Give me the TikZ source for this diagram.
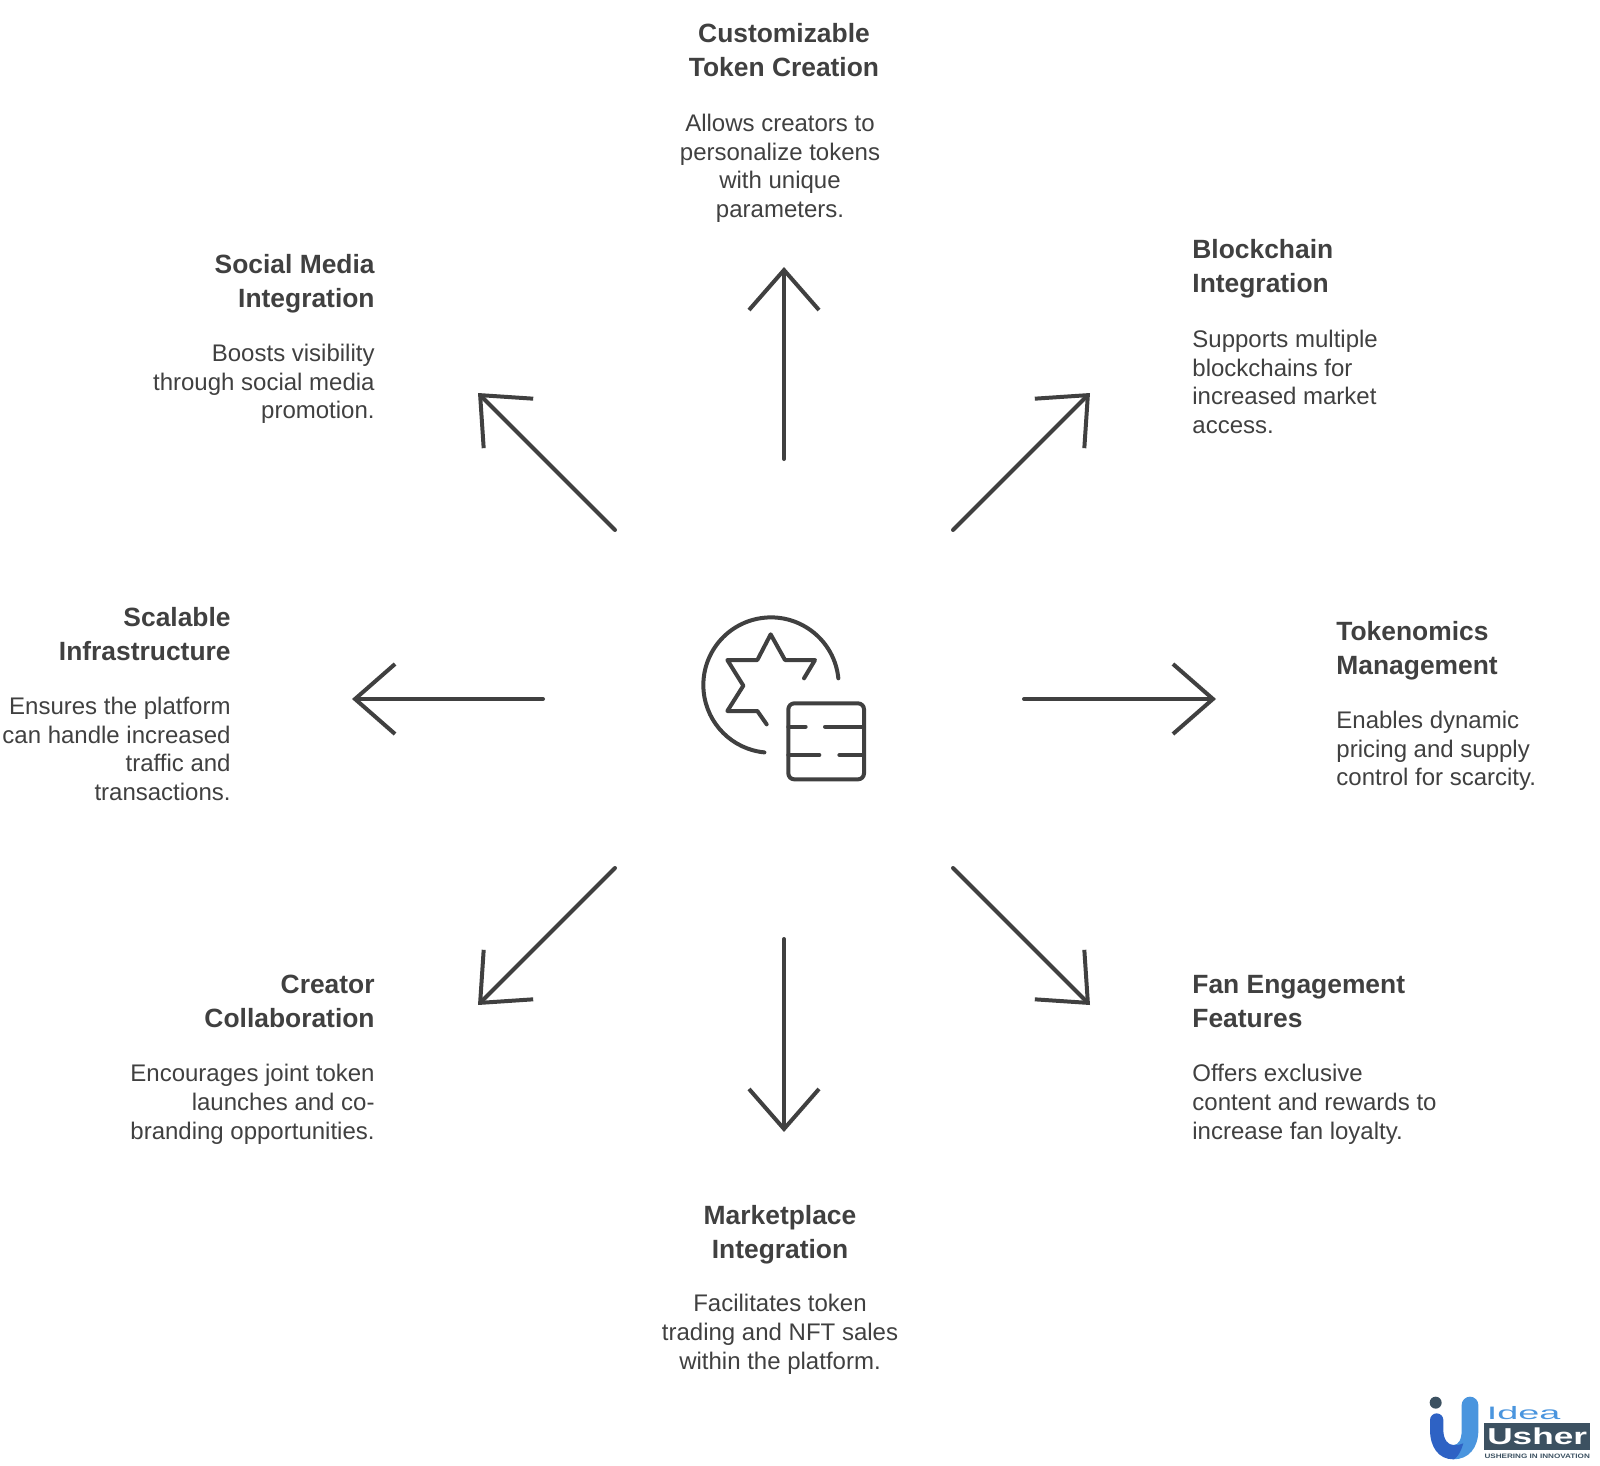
\documentclass[tikz,border=0pt]{standalone}
\usepackage{fontspec}
\setmainfont{Liberation Sans}
\usetikzlibrary{arrows.meta}
\definecolor{ink}{HTML}{404040}
\definecolor{slate}{HTML}{3C5161}
\definecolor{blueA}{HTML}{2E62C4}
\definecolor{blueB}{HTML}{4A95DE}

\begin{document}
\begin{tikzpicture}[
		x=0.5pt,y=-0.5pt,
		pfeil/.style={draw=ink,line width=2pt,line cap=round,line join=round,-{Straight Barb[length=20pt,width=35pt,line width=2pt]}},
		icon/.style={draw=ink,line width=2pt,line cap=round,line join=round},
		titel/.style={font=\bfseries\fontsize{13.2}{16.8}\selectfont,text=ink,inner sep=0pt},
		rumpf/.style={font=\fontsize{12}{14.3}\selectfont,text=ink,inner sep=0pt}]
		
		\useasboundingbox (0,0) rectangle (1600,1466);
		
		%titel
		\foreach \name/\x/\y/\richtung/\anker/\kopf in {
			token/784/23/center/north/{Customizable\\Token Creation},
			block/1192/239/left/north west/{Blockchain\\Integration},
			tokenomics/1336/621/left/north west/{Tokenomics\\Management},
			fan/1192/975/left/north west/{Fan Engagement\\Features},
			market/780/1205/center/north/{Marketplace\\Integration},
			creator/375/975/right/north east/{Creator\\Collaboration},
			scalable/231/607/right/north east/{Scalable\\Infrastructure},
			social/375/254/right/north east/{Social Media\\Integration}}
		\node[titel,align=\richtung,anchor=\anker] (\name) at (\x,\y) {\kopf};
		
		%text
		\foreach \name/\x/\y/\richtung/\anker/\inhalt in {
			tokentext/780/114/center/north/{Allows creators to\\personalize tokens\\with unique\\parameters.},
			blocktext/1192/330/left/north west/{Supports multiple\\blockchains for\\increased market\\access.},
			tokenomicstext/1336/711/left/north west/{Enables dynamic\\pricing and supply\\control for scarcity.},
			fantext/1192/1064/left/north west/{Offers exclusive\\content and rewards to\\increase fan loyalty.},
			markettext/780/1294/center/north/{Facilitates token\\trading and NFT sales\\within the platform.},
			creatortext/375/1064/right/north east/{Encourages joint token\\launches and co-\\branding opportunities.},
			scalabletext/231/697/right/north east/{Ensures the platform\\can handle increased\\traffic and\\transactions.},
			socialtext/375/344/right/north east/{Boosts visibility\\through social media\\promotion.}}
		\node[rumpf,align=\richtung,anchor=\anker] (\name) at (\x,\y) {\inhalt};
		
		%pfeile
		\foreach \name/\anfangx/\anfangy/\endex/\endey in {
			n/784/459/784/267, ne/953/530/1090/393, o/1024/699/1216/699, se/953/868/1090/1005,
			s/784/939/784/1132, sw/615/868/478/1005, w/543/699/352/699, nw/615/530/478/393}{
			\coordinate (start\name) at (\anfangx,\anfangy);
			\coordinate (ende\name) at (\endex,\endey);
			\draw[pfeil] (start\name) -- (ende\name);
		}
		
		%mitte
		\begin{scope}[shift={(680,600)},x=0.16667pt,y=-0.16667pt]
			\draw[icon] (475,235) arc[start angle=-5.7,end angle=-264.4,radius=203];
			\draw[icon] (372,235) -- (405,180) -- (315,180) -- (272,103) -- (232,180) -- (142,180) -- (190,257) -- (142,333) -- (232,333) -- (260,373);
			\draw[icon,rounded corners=3pt] (325,310) rectangle (552,538);
			\foreach \anfang/\ende/\hoehe in {325/377/380, 435/552/380, 325/418/465, 478/552/465}
			\draw[icon] (\anfang,\hoehe) -- (\ende,\hoehe);
		\end{scope}
		
		%logo
		\begin{scope}[shift={(1410,1380)},x=0.16667pt,y=-0.16667pt]
			\fill[slate] (77,68) circle[radius=3pt];
			\fill[blueB] (155,75) arc[start angle=180,end angle=0,x radius=25,y radius=-25] -- (205,150) .. controls (205,205) and (175,238) .. (130,238) -- (130,195) .. controls (145,195) and (155,180) .. (155,150) -- cycle;
			\fill[blueA] (60,120) arc[start angle=180,end angle=0,x radius=20,y radius=-20] -- (100,150) .. controls (100,180) and (115,195) .. (130,195) .. controls (145,195) and (150,195) .. (160,190) .. controls (150,225) and (135,238) .. (130,238) .. controls (85,238) and (60,200) .. (60,150) -- cycle;
			\fill[slate] (222,130) rectangle (540,210);
			\node[anchor=west,inner sep=0pt,text=blueB,font=\fontsize{9}{9}\selectfont,transform shape,xscale=2.1] (idea) at (228,99) {Idea};
			\node[anchor=west,inner sep=0pt,text=white,font=\bfseries\fontsize{11.5}{11.5}\selectfont,transform shape,xscale=1.53] (usher) at (230,170) {Usher};
			\node[anchor=west,inner sep=0pt,text=slate,font=\bfseries\fontsize{3.2}{4}\selectfont,transform shape,xscale=1.27] (slogan) at (222,229) {USHERING IN INNOVATION};
		\end{scope}
		
	\end{tikzpicture}
\end{document}
